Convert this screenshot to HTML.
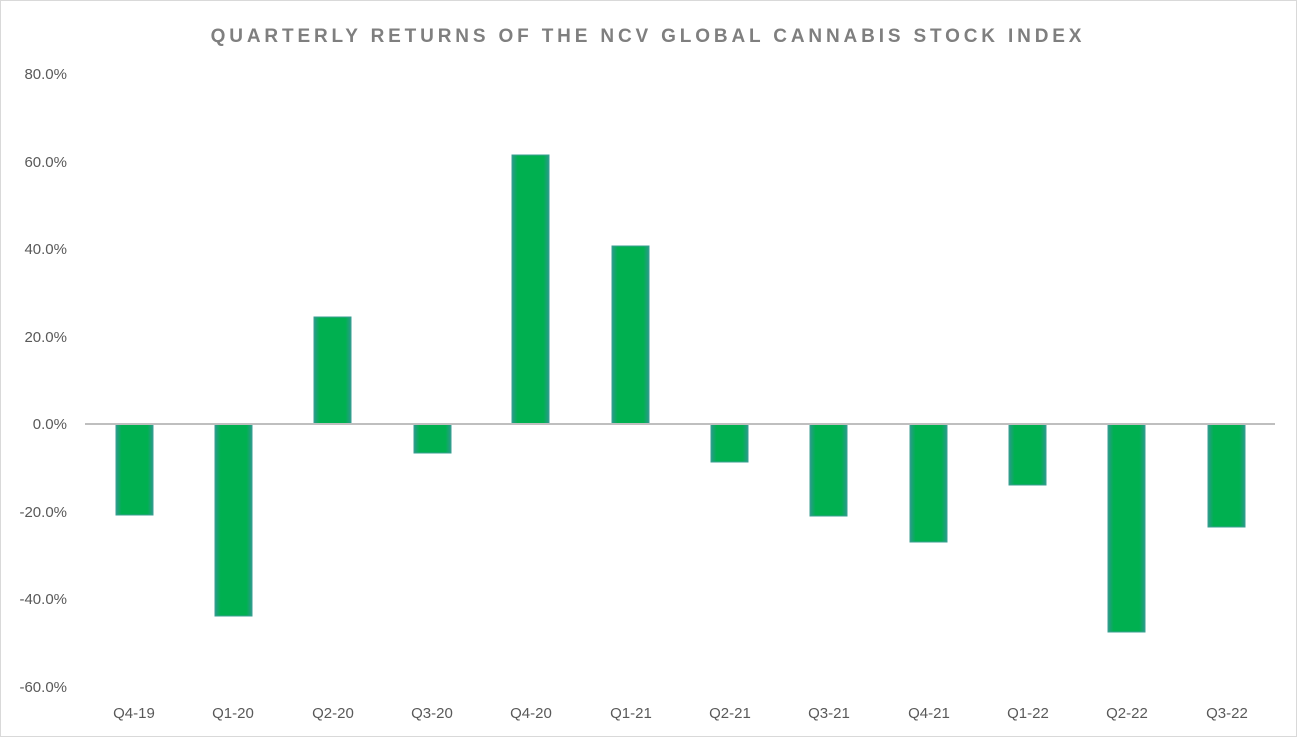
<!DOCTYPE html>
<html><head><meta charset="utf-8"><style>
body{margin:0;background:#fff;}
svg{display:block;font-family:"Liberation Sans",sans-serif;}
</style></head><body>
<svg width="1297" height="737" viewBox="0 0 1297 737">
<rect x="0.5" y="0.5" width="1296" height="736" fill="#fff" stroke="#d9d9d9"/>
<text x="648" y="42" text-anchor="middle" font-size="19" font-weight="bold" fill="#7f7f7f" letter-spacing="3.85">QUARTERLY RETURNS OF THE NCV GLOBAL CANNABIS STOCK INDEX</text>
<g font-size="15" fill="#595959" text-anchor="end">
<text x="67" y="79">80.0%</text>
<text x="67" y="167">60.0%</text>
<text x="67" y="254">40.0%</text>
<text x="67" y="342">20.0%</text>
<text x="67" y="429">0.0%</text>
<text x="67" y="517">-20.0%</text>
<text x="67" y="604">-40.0%</text>
<text x="67" y="692">-60.0%</text>
</g>
<defs>
<linearGradient id="g" x1="0" x2="1" y1="0" y2="0">
<stop offset="0" stop-color="#2a9a8c"/><stop offset="0.15" stop-color="#00b050"/><stop offset="0.85" stop-color="#00b050"/><stop offset="1" stop-color="#2a9a8c"/>
</linearGradient>
</defs>
<g fill="url(#g)" stroke="#3a9f90" stroke-width="1">
<rect x="116" y="424" width="37" height="91"/>
<rect x="215" y="424" width="37" height="192"/>
<rect x="314" y="317" width="37" height="107"/>
<rect x="414" y="424" width="37" height="29"/>
<rect x="512" y="155" width="37" height="269"/>
<rect x="612" y="246" width="37" height="178"/>
<rect x="711" y="424" width="37" height="38"/>
<rect x="810" y="424" width="37" height="92"/>
<rect x="910" y="424" width="37" height="118"/>
<rect x="1009" y="424" width="37" height="61"/>
<rect x="1108" y="424" width="37" height="208"/>
<rect x="1208" y="424" width="37" height="103"/>
</g>
<line x1="85" y1="424" x2="1275" y2="424" stroke="#bfbfbf" stroke-width="2"/>
<g font-size="15" fill="#595959" text-anchor="middle">
<text x="134" y="718">Q4-19</text>
<text x="233" y="718">Q1-20</text>
<text x="333" y="718">Q2-20</text>
<text x="432" y="718">Q3-20</text>
<text x="531" y="718">Q4-20</text>
<text x="631" y="718">Q1-21</text>
<text x="730" y="718">Q2-21</text>
<text x="829" y="718">Q3-21</text>
<text x="929" y="718">Q4-21</text>
<text x="1028" y="718">Q1-22</text>
<text x="1127" y="718">Q2-22</text>
<text x="1227" y="718">Q3-22</text>
</g>
</svg>
</body></html>
